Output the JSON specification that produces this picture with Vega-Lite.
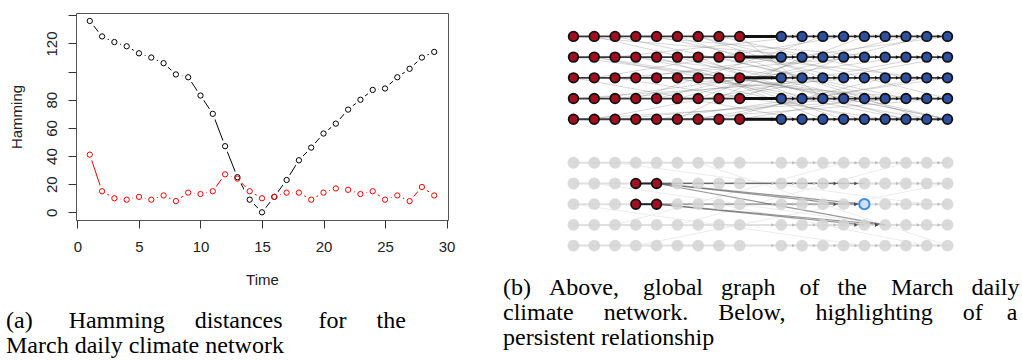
{
 "$schema": "https://vega.github.io/schema/vega-lite/v6.json",
 "background": "white",
 "padding": {"left": 5, "top": 12, "right": 0, "bottom": 0},
 "bounds": "flush",
 "spacing": 113,
 "config": {"view": {"stroke": null}},
 "datasets": {
  "series": [
   {"t":1,"v":136,"s":"k"},{"t":2,"v":125,"s":"k"},{"t":3,"v":121,"s":"k"},{"t":4,"v":118,"s":"k"},{"t":5,"v":113,"s":"k"},{"t":6,"v":110,"s":"k"},{"t":7,"v":106,"s":"k"},{"t":8,"v":98,"s":"k"},{"t":9,"v":96,"s":"k"},{"t":10,"v":83,"s":"k"},{"t":11,"v":70,"s":"k"},{"t":12,"v":47,"s":"k"},{"t":13,"v":25,"s":"k"},{"t":14,"v":9,"s":"k"},{"t":15,"v":0,"s":"k"},{"t":16,"v":11,"s":"k"},{"t":17,"v":23,"s":"k"},{"t":18,"v":37,"s":"k"},{"t":19,"v":46,"s":"k"},{"t":20,"v":56,"s":"k"},{"t":21,"v":63,"s":"k"},{"t":22,"v":73,"s":"k"},{"t":23,"v":80,"s":"k"},{"t":24,"v":87,"s":"k"},{"t":25,"v":88,"s":"k"},{"t":26,"v":96,"s":"k"},{"t":27,"v":102,"s":"k"},{"t":28,"v":110,"s":"k"},{"t":29,"v":114,"s":"k"},
   {"t":1,"v":41,"s":"r"},{"t":2,"v":15,"s":"r"},{"t":3,"v":10,"s":"r"},{"t":4,"v":9,"s":"r"},{"t":5,"v":11,"s":"r"},{"t":6,"v":9,"s":"r"},{"t":7,"v":12,"s":"r"},{"t":8,"v":8,"s":"r"},{"t":9,"v":14,"s":"r"},{"t":10,"v":13,"s":"r"},{"t":11,"v":15,"s":"r"},{"t":12,"v":27,"s":"r"},{"t":13,"v":24,"s":"r"},{"t":14,"v":15,"s":"r"},{"t":15,"v":10,"s":"r"},{"t":16,"v":11,"s":"r"},{"t":17,"v":14,"s":"r"},{"t":18,"v":14,"s":"r"},{"t":19,"v":9,"s":"r"},{"t":20,"v":14,"s":"r"},{"t":21,"v":17,"s":"r"},{"t":22,"v":16,"s":"r"},{"t":23,"v":13,"s":"r"},{"t":24,"v":15,"s":"r"},{"t":25,"v":9,"s":"r"},{"t":26,"v":12,"s":"r"},{"t":27,"v":8,"s":"r"},{"t":28,"v":18,"s":"r"},{"t":29,"v":12,"s":"r"}
  ],
  "nodes": [
   {"x":0,"y":0,"t":"r"},{"x":1,"y":0,"t":"r"},{"x":2,"y":0,"t":"r"},{"x":3,"y":0,"t":"r"},{"x":4,"y":0,"t":"r"},{"x":5,"y":0,"t":"r"},{"x":6,"y":0,"t":"r"},{"x":7,"y":0,"t":"r"},{"x":8,"y":0,"t":"r"},
   {"x":10,"y":0,"t":"b"},{"x":11,"y":0,"t":"b"},{"x":12,"y":0,"t":"b"},{"x":13,"y":0,"t":"b"},{"x":14,"y":0,"t":"b"},{"x":15,"y":0,"t":"b"},{"x":16,"y":0,"t":"b"},{"x":17,"y":0,"t":"b"},{"x":18,"y":0,"t":"b"},
   {"x":0,"y":1,"t":"r"},{"x":1,"y":1,"t":"r"},{"x":2,"y":1,"t":"r"},{"x":3,"y":1,"t":"r"},{"x":4,"y":1,"t":"r"},{"x":5,"y":1,"t":"r"},{"x":6,"y":1,"t":"r"},{"x":7,"y":1,"t":"r"},{"x":8,"y":1,"t":"r"},
   {"x":10,"y":1,"t":"b"},{"x":11,"y":1,"t":"b"},{"x":12,"y":1,"t":"b"},{"x":13,"y":1,"t":"b"},{"x":14,"y":1,"t":"b"},{"x":15,"y":1,"t":"b"},{"x":16,"y":1,"t":"b"},{"x":17,"y":1,"t":"b"},{"x":18,"y":1,"t":"b"},
   {"x":0,"y":2,"t":"r"},{"x":1,"y":2,"t":"r"},{"x":2,"y":2,"t":"r"},{"x":3,"y":2,"t":"r"},{"x":4,"y":2,"t":"r"},{"x":5,"y":2,"t":"r"},{"x":6,"y":2,"t":"r"},{"x":7,"y":2,"t":"r"},{"x":8,"y":2,"t":"r"},
   {"x":10,"y":2,"t":"b"},{"x":11,"y":2,"t":"b"},{"x":12,"y":2,"t":"b"},{"x":13,"y":2,"t":"b"},{"x":14,"y":2,"t":"b"},{"x":15,"y":2,"t":"b"},{"x":16,"y":2,"t":"b"},{"x":17,"y":2,"t":"b"},{"x":18,"y":2,"t":"b"},
   {"x":0,"y":3,"t":"r"},{"x":1,"y":3,"t":"r"},{"x":2,"y":3,"t":"r"},{"x":3,"y":3,"t":"r"},{"x":4,"y":3,"t":"r"},{"x":5,"y":3,"t":"r"},{"x":6,"y":3,"t":"r"},{"x":7,"y":3,"t":"r"},{"x":8,"y":3,"t":"r"},
   {"x":10,"y":3,"t":"b"},{"x":11,"y":3,"t":"b"},{"x":12,"y":3,"t":"b"},{"x":13,"y":3,"t":"b"},{"x":14,"y":3,"t":"b"},{"x":15,"y":3,"t":"b"},{"x":16,"y":3,"t":"b"},{"x":17,"y":3,"t":"b"},{"x":18,"y":3,"t":"b"},
   {"x":0,"y":4,"t":"r"},{"x":1,"y":4,"t":"r"},{"x":2,"y":4,"t":"r"},{"x":3,"y":4,"t":"r"},{"x":4,"y":4,"t":"r"},{"x":5,"y":4,"t":"r"},{"x":6,"y":4,"t":"r"},{"x":7,"y":4,"t":"r"},{"x":8,"y":4,"t":"r"},
   {"x":10,"y":4,"t":"b"},{"x":11,"y":4,"t":"b"},{"x":12,"y":4,"t":"b"},{"x":13,"y":4,"t":"b"},{"x":14,"y":4,"t":"b"},{"x":15,"y":4,"t":"b"},{"x":16,"y":4,"t":"b"},{"x":17,"y":4,"t":"b"},{"x":18,"y":4,"t":"b"},
   {"x":0,"y":6.1,"t":"g"},{"x":1,"y":6.1,"t":"g"},{"x":2,"y":6.1,"t":"g"},{"x":3,"y":6.1,"t":"g"},{"x":4,"y":6.1,"t":"g"},{"x":5,"y":6.1,"t":"g"},{"x":6,"y":6.1,"t":"g"},{"x":7,"y":6.1,"t":"g"},{"x":8,"y":6.1,"t":"g"},
   {"x":10,"y":6.1,"t":"g"},{"x":11,"y":6.1,"t":"g"},{"x":12,"y":6.1,"t":"g"},{"x":13,"y":6.1,"t":"g"},{"x":14,"y":6.1,"t":"g"},{"x":15,"y":6.1,"t":"g"},{"x":16,"y":6.1,"t":"g"},{"x":17,"y":6.1,"t":"g"},{"x":18,"y":6.1,"t":"g"},
   {"x":0,"y":7.1,"t":"g"},{"x":1,"y":7.1,"t":"g"},{"x":2,"y":7.1,"t":"g"},{"x":3,"y":7.1,"t":"r"},{"x":4,"y":7.1,"t":"r"},{"x":5,"y":7.1,"t":"g"},{"x":6,"y":7.1,"t":"g"},{"x":7,"y":7.1,"t":"g"},{"x":8,"y":7.1,"t":"g"},
   {"x":10,"y":7.1,"t":"g"},{"x":11,"y":7.1,"t":"g"},{"x":12,"y":7.1,"t":"g"},{"x":13,"y":7.1,"t":"g"},{"x":14,"y":7.1,"t":"g"},{"x":15,"y":7.1,"t":"g"},{"x":16,"y":7.1,"t":"g"},{"x":17,"y":7.1,"t":"g"},{"x":18,"y":7.1,"t":"g"},
   {"x":0,"y":8.1,"t":"g"},{"x":1,"y":8.1,"t":"g"},{"x":2,"y":8.1,"t":"g"},{"x":3,"y":8.1,"t":"r"},{"x":4,"y":8.1,"t":"r"},{"x":5,"y":8.1,"t":"g"},{"x":6,"y":8.1,"t":"g"},{"x":7,"y":8.1,"t":"g"},{"x":8,"y":8.1,"t":"g"},
   {"x":10,"y":8.1,"t":"g"},{"x":11,"y":8.1,"t":"g"},{"x":12,"y":8.1,"t":"g"},{"x":13,"y":8.1,"t":"g"},{"x":14,"y":8.1,"t":"h"},{"x":15,"y":8.1,"t":"g"},{"x":16,"y":8.1,"t":"g"},{"x":17,"y":8.1,"t":"g"},{"x":18,"y":8.1,"t":"g"},
   {"x":0,"y":9.1,"t":"g"},{"x":1,"y":9.1,"t":"g"},{"x":2,"y":9.1,"t":"g"},{"x":3,"y":9.1,"t":"g"},{"x":4,"y":9.1,"t":"g"},{"x":5,"y":9.1,"t":"g"},{"x":6,"y":9.1,"t":"g"},{"x":7,"y":9.1,"t":"g"},{"x":8,"y":9.1,"t":"g"},
   {"x":10,"y":9.1,"t":"g"},{"x":11,"y":9.1,"t":"g"},{"x":12,"y":9.1,"t":"g"},{"x":13,"y":9.1,"t":"g"},{"x":14,"y":9.1,"t":"g"},{"x":15,"y":9.1,"t":"g"},{"x":16,"y":9.1,"t":"g"},{"x":17,"y":9.1,"t":"g"},{"x":18,"y":9.1,"t":"g"},
   {"x":0,"y":10.1,"t":"g"},{"x":1,"y":10.1,"t":"g"},{"x":2,"y":10.1,"t":"g"},{"x":3,"y":10.1,"t":"g"},{"x":4,"y":10.1,"t":"g"},{"x":5,"y":10.1,"t":"g"},{"x":6,"y":10.1,"t":"g"},{"x":7,"y":10.1,"t":"g"},{"x":8,"y":10.1,"t":"g"},
   {"x":10,"y":10.1,"t":"g"},{"x":11,"y":10.1,"t":"g"},{"x":12,"y":10.1,"t":"g"},{"x":13,"y":10.1,"t":"g"},{"x":14,"y":10.1,"t":"g"},{"x":15,"y":10.1,"t":"g"},{"x":16,"y":10.1,"t":"g"},{"x":17,"y":10.1,"t":"g"},{"x":18,"y":10.1,"t":"g"}
  ],
  "edges": [
   {"x":0,"y":0,"x2":18,"y2":0,"k":"row"},{"x":0,"y":1,"x2":18,"y2":1,"k":"row"},{"x":0,"y":2,"x2":18,"y2":2,"k":"row"},{"x":0,"y":3,"x2":18,"y2":3,"k":"row"},{"x":0,"y":4,"x2":18,"y2":4,"k":"row"},
   {"x":8,"y":0,"x2":10,"y2":0,"k":"gap"},{"x":8,"y":1,"x2":10,"y2":1,"k":"gap"},{"x":8,"y":2,"x2":10,"y2":2,"k":"gap"},{"x":8,"y":3,"x2":10,"y2":3,"k":"gap"},{"x":8,"y":4,"x2":10,"y2":4,"k":"gap"},
   {"x":1,"y":1,"x2":14,"y2":3,"k":"diag"},{"x":1,"y":1,"x2":17,"y2":4,"k":"diag"},{"x":2,"y":0,"x2":16,"y2":3,"k":"diag"},{"x":2,"y":2,"x2":15,"y2":4,"k":"diag"},{"x":3,"y":1,"x2":18,"y2":4,"k":"diag"},
   {"x":3,"y":3,"x2":12,"y2":0,"k":"diag"},{"x":4,"y":0,"x2":13,"y2":2,"k":"diag"},{"x":4,"y":2,"x2":17,"y2":3,"k":"diag"},{"x":5,"y":4,"x2":11,"y2":1,"k":"diag"},{"x":5,"y":1,"x2":16,"y2":4,"k":"diag"},
   {"x":6,"y":3,"x2":14,"y2":0,"k":"diag"},{"x":6,"y":0,"x2":18,"y2":3,"k":"diag"},{"x":7,"y":2,"x2":12,"y2":4,"k":"diag"},{"x":7,"y":4,"x2":15,"y2":2,"k":"diag"},{"x":8,"y":1,"x2":17,"y2":2,"k":"diag"},
   {"x":8,"y":3,"x2":13,"y2":1,"k":"diag"},{"x":0,"y":2,"x2":11,"y2":4,"k":"diag"},{"x":0,"y":0,"x2":12,"y2":1,"k":"diag"},{"x":1,"y":3,"x2":16,"y2":1,"k":"diag"},{"x":2,"y":4,"x2":13,"y2":3,"k":"diag"},
   {"x":3,"y":0,"x2":15,"y2":1,"k":"diag"},{"x":4,"y":4,"x2":18,"y2":2,"k":"diag"},{"x":5,"y":2,"x2":14,"y2":4,"k":"diag"},{"x":6,"y":1,"x2":11,"y2":3,"k":"diag"},{"x":7,"y":0,"x2":16,"y2":2,"k":"diag"},
   {"x":8,"y":4,"x2":14,"y2":3,"k":"diag"},{"x":8,"y":0,"x2":12,"y2":3,"k":"diag"},{"x":1,"y":4,"x2":17,"y2":1,"k":"diag"},{"x":2,"y":1,"x2":11,"y2":0,"k":"diag"},{"x":3,"y":2,"x2":18,"y2":0,"k":"diag"},
   {"x":4,"y":3,"x2":16,"y2":0,"k":"diag"},{"x":5,"y":0,"x2":17,"y2":4,"k":"diag"},{"x":7,"y":3,"x2":18,"y2":1,"k":"diag"},{"x":0,"y":1,"x2":15,"y2":3,"k":"diag"},{"x":0,"y":3,"x2":14,"y2":2,"k":"diag"},
   {"x":1,"y":0,"x2":18,"y2":4,"k":"diag"},{"x":2,"y":3,"x2":12,"y2":2,"k":"diag"},{"x":3,"y":4,"x2":15,"y2":4,"k":"diag"},{"x":4,"y":1,"x2":13,"y2":4,"k":"diag"},{"x":5,"y":3,"x2":17,"y2":0,"k":"diag"},
   {"x":6,"y":2,"x2":16,"y2":4,"k":"diag"},{"x":7,"y":1,"x2":15,"y2":3,"k":"diag"},{"x":8,"y":2,"x2":18,"y2":4,"k":"diag"},{"x":2,"y":2,"x2":14,"y2":1,"k":"diag"},{"x":1,"y":2,"x2":13,"y2":0,"k":"diag"},
   {"x":0,"y":4,"x2":16,"y2":3,"k":"diag"},{"x":5,"y":4,"x2":18,"y2":3,"k":"diag"},{"x":6,"y":0,"x2":12,"y2":2,"k":"diag"},{"x":3,"y":1,"x2":11,"y2":2,"k":"diag"},{"x":6,"y":4,"x2":17,"y2":2,"k":"diag"},
   {"x":0,"y":6.1,"x2":18,"y2":6.1,"k":"frow"},{"x":0,"y":7.1,"x2":18,"y2":7.1,"k":"frow"},{"x":0,"y":8.1,"x2":18,"y2":8.1,"k":"frow"},{"x":0,"y":9.1,"x2":18,"y2":9.1,"k":"frow"},{"x":0,"y":10.1,"x2":18,"y2":10.1,"k":"frow"},
   {"x":1,"y":7.1,"x2":15,"y2":9.1,"k":"fdiag"},{"x":2,"y":6.1,"x2":17,"y2":8.1,"k":"fdiag"},{"x":5,"y":9.1,"x2":16,"y2":6.1,"k":"fdiag"},{"x":0,"y":8.1,"x2":14,"y2":10.1,"k":"fdiag"},{"x":3,"y":10.1,"x2":18,"y2":7.1,"k":"fdiag"},
   {"x":6,"y":6.1,"x2":18,"y2":10.1,"k":"fdiag"},{"x":2,"y":9.1,"x2":13,"y2":6.1,"k":"fdiag"},{"x":7,"y":8.1,"x2":17,"y2":10.1,"k":"fdiag"},
   {"x":3,"y":7.1,"x2":4,"y2":7.1,"k":"hred"},{"x":3,"y":8.1,"x2":4,"y2":8.1,"k":"hred"},
   {"x":4,"y":7.1,"x2":13,"y2":7.1,"k":"hi"},{"x":4,"y":7.1,"x2":14,"y2":7.1,"k":"hi"},{"x":4,"y":7.1,"x2":13,"y2":8.1,"k":"hi"},{"x":4,"y":7.1,"x2":14,"y2":8.1,"k":"hi"},
   {"x":4,"y":8.1,"x2":14,"y2":8.1,"k":"hi"},{"x":4,"y":8.1,"x2":14,"y2":9.1,"k":"hi"},{"x":4,"y":8.1,"x2":15,"y2":9.1,"k":"hi"},{"x":4,"y":7.1,"x2":15,"y2":9.1,"k":"hi"}
  ]
 },
 "hconcat": [
  {
   "width": 372,
   "height": 207,
   "view": {"stroke": "#555555", "strokeWidth": 1},
   "data": {"name": "series"},
   "title": {
    "text": ["(a)\u00a0\u00a0\u00a0\u00a0\u00a0\u00a0Hamming\u00a0\u00a0\u00a0\u00a0\u00a0distances\u00a0\u00a0\u00a0\u00a0\u00a0\u00a0for\u00a0\u00a0\u00a0\u00a0\u00a0the", "March daily climate network"],
    "orient": "bottom", "anchor": "start", "frame": "group", "dx": -70, "offset": 22,
    "font": "Liberation Serif", "fontSize": 24, "fontWeight": "normal", "color": "#000000",
    "lineHeight": 25, "baseline": "top"
   },
   "encoding": {
    "x": {"field": "t", "type": "quantitative",
     "scale": {"domain": [-0.12, 30.12], "nice": false, "zero": false},
     "axis": {"values": [0,5,10,15,20,25,30], "grid": false, "domain": false, "tickSize": 8, "tickColor": "#333333",
      "labelPadding": 11, "labelFlush": false, "labelOverlap": false, "labelFont": "Liberation Sans", "labelFontSize": 15, "labelColor": "#222222",
      "title": "Time", "titleFont": "Liberation Sans", "titleFontSize": 15, "titleFontWeight": "normal", "titleColor": "#222222", "titlePadding": 18}},
    "y": {"field": "v", "type": "quantitative",
     "scale": {"domain": [-5.45, 141.65], "nice": false, "zero": false},
     "axis": {"values": [0,20,40,60,80,100,120,140], "labelExpr": "datum.value == 100 || datum.value == 140 ? '' : datum.label",
      "grid": false, "domain": false, "tickSize": 8, "tickColor": "#333333",
      "labelAngle": -90, "labelAlign": "center", "labelBaseline": "alphabetic", "labelPadding": 11.6, "labelFlush": false, "labelOverlap": false,
      "labelFont": "Liberation Sans", "labelFontSize": 15, "labelColor": "#222222",
      "title": "Hamming", "titleFont": "Liberation Sans", "titleFontSize": 15, "titleFontWeight": "normal", "titleColor": "#222222", "titlePadding": 20}}
   },
   "layer": [
    {"mark": {"type": "line", "strokeWidth": 1},
     "encoding": {"color": {"field": "s", "type": "nominal", "scale": {"domain": ["k","r"], "range": ["#000000","#ff0000"]}, "legend": null}}},
    {"mark": {"type": "point", "filled": true, "fill": "#ffffff", "size": 150, "opacity": 1, "strokeWidth": 0}},
    {"mark": {"type": "point", "filled": false, "size": 28, "strokeWidth": 1, "opacity": 1},
     "encoding": {"color": {"field": "s", "type": "nominal", "scale": {"domain": ["k","r"], "range": ["#000000","#ff0000"]}, "legend": null}}}
   ]
  },
  {
   "width": 399,
   "height": 244,
   "view": {"stroke": null},
   "title": {
    "text": ["(b)\u00a0\u00a0\u00a0Above,\u00a0\u00a0\u00a0\u00a0global\u00a0\u00a0\u00a0graph\u00a0\u00a0\u00a0\u00a0of\u00a0\u00a0\u00a0the\u00a0\u00a0\u00a0\u00a0March\u00a0\u00a0\u00a0daily",
             "climate\u00a0\u00a0\u00a0\u00a0\u00a0network.\u00a0\u00a0\u00a0\u00a0\u00a0Below,\u00a0\u00a0\u00a0\u00a0\u00a0highlighting\u00a0\u00a0\u00a0\u00a0\u00a0of\u00a0\u00a0\u00a0\u00a0a",
             "persistent relationship"],
    "orient": "bottom", "anchor": "start", "frame": "group", "dx": -58, "offset": 19,
    "font": "Liberation Serif", "fontSize": 24, "fontWeight": "normal", "color": "#000000",
    "lineHeight": 25, "baseline": "top"
   },
   "encoding": {
    "x": {"field": "x", "type": "quantitative", "scale": {"domain": [-0.6, 18.6], "nice": false, "zero": false}, "axis": null},
    "y": {"field": "y", "type": "quantitative", "scale": {"domain": [-1.13, 10.65], "nice": false, "zero": false, "reverse": true}, "axis": null}
   },
   "layer": [
    {"data": {"name": "edges"}, "transform": [{"filter": "datum.k == 'frow'"}],
     "mark": {"type": "rule", "color": "#e0e0e0", "strokeWidth": 2},
     "encoding": {"x2": {"field": "x2"}, "y2": {"field": "y2"}}},
    {"data": {"name": "edges"}, "transform": [{"filter": "datum.k == 'fdiag'"}],
     "mark": {"type": "rule", "color": "#ececec", "strokeWidth": 1},
     "encoding": {"x2": {"field": "x2"}, "y2": {"field": "y2"}}},
    {"data": {"name": "edges"}, "transform": [{"filter": "datum.k == 'diag'"}],
     "mark": {"type": "rule", "color": "#777777", "strokeWidth": 1, "opacity": 0.3},
     "encoding": {"x2": {"field": "x2"}, "y2": {"field": "y2"}}},
    {"data": {"name": "edges"}, "transform": [{"filter": "datum.k == 'row'"}],
     "mark": {"type": "rule", "color": "#383838", "strokeWidth": 1.8},
     "encoding": {"x2": {"field": "x2"}, "y2": {"field": "y2"}}},
    {"data": {"name": "edges"}, "transform": [{"filter": "datum.k == 'gap'"}],
     "mark": {"type": "rule", "color": "#111111", "strokeWidth": 3},
     "encoding": {"x2": {"field": "x2"}, "y2": {"field": "y2"}}},
    {"data": {"name": "edges"}, "transform": [{"filter": "datum.k == 'hi'"}],
     "mark": {"type": "rule", "color": "#555555", "strokeWidth": 1.2, "opacity": 0.6},
     "encoding": {"x2": {"field": "x2"}, "y2": {"field": "y2"}}},
    {"data": {"name": "edges"}, "transform": [{"filter": "datum.k == 'hred'"}],
     "mark": {"type": "rule", "color": "#222222", "strokeWidth": 2},
     "encoding": {"x2": {"field": "x2"}, "y2": {"field": "y2"}}},
    {"data": {"name": "nodes"}, "transform": [{"filter": "datum.t == 'b'"}],
     "mark": {"type": "point", "shape": "triangle-right", "filled": true, "fill": "#111111", "size": 14, "strokeWidth": 0, "opacity": 1, "xOffset": -8.5}},
    {"data": {"name": "nodes"}, "transform": [{"filter": "datum.t == 'g' && datum.x >= 10"}],
     "mark": {"type": "point", "shape": "triangle-right", "filled": true, "fill": "#bbbbbb", "size": 12, "strokeWidth": 0, "opacity": 1, "xOffset": -8.5}},
    {"data": {"name": "edges"}, "transform": [{"filter": "datum.k == 'hi'"}],
     "mark": {"type": "point", "shape": "triangle-right", "filled": true, "fill": "#444444", "size": 13, "strokeWidth": 0, "opacity": 1, "xOffset": -8.5},
     "encoding": {
      "x": {"field": "x2", "type": "quantitative", "scale": {"domain": [-0.6, 18.6], "nice": false, "zero": false}, "axis": null},
      "y": {"field": "y2", "type": "quantitative", "scale": {"domain": [-1.13, 10.65], "nice": false, "zero": false, "reverse": true}, "axis": null}}},
    {"data": {"name": "nodes"}, "transform": [{"filter": "datum.t == 'g'"}],
     "mark": {"type": "point", "filled": true, "fill": "#d3d3d3", "size": 140, "strokeWidth": 0, "opacity": 0.85}},
    {"data": {"name": "nodes"}, "transform": [{"filter": "datum.t == 'r' || datum.t == 'b'"}],
     "mark": {"type": "point", "filled": true, "size": 92, "stroke": "#111111", "strokeWidth": 1.8, "opacity": 1},
     "encoding": {"fill": {"field": "t", "type": "nominal", "scale": {"domain": ["r","b"], "range": ["#a11020","#2f4f9f"]}, "legend": null}}},
    {"data": {"name": "nodes"}, "transform": [{"filter": "datum.t == 'h'"}],
     "mark": {"type": "point", "filled": true, "fill": "#cfe2fa", "stroke": "#3d8ee8", "strokeWidth": 2, "size": 105, "opacity": 1}}
   ]
  }
 ]
}
